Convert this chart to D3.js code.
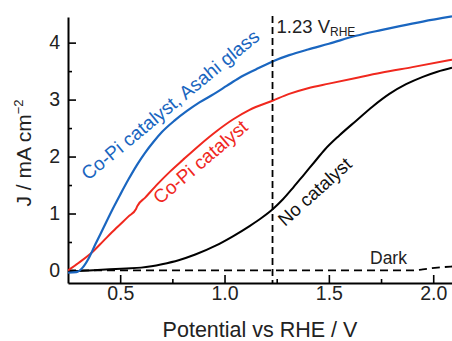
<!DOCTYPE html>
<html>
<head>
<meta charset="utf-8">
<script src="https://cdn.jsdelivr.net/npm/d3@7"></script>
<style>
  html, body { margin: 0; padding: 0; background: #fff; }
  svg { display: block; font-family: "Liberation Sans", Arial, sans-serif; }
</style>
</head>
<body>
<div id="chart"></div>
<script>
// Potential vs RHE (V) and current density J (mA cm^-2)
const asahiPotential = [0.25, 0.29, 0.32, 0.35, 0.38, 0.42, 0.46, 0.50, 0.54, 0.58, 0.62, 0.66, 0.70, 0.76, 0.82, 0.88, 0.95, 1.01, 1.07, 1.15, 1.23, 1.31, 1.40, 1.50, 1.63, 1.75, 1.84, 1.95, 2.09];
const asahiJ =         [-0.04, -0.03, 0.05, 0.22, 0.45, 0.75, 1.05, 1.33, 1.60, 1.85, 2.07, 2.26, 2.43, 2.63, 2.80, 2.95, 3.10, 3.24, 3.38, 3.53, 3.67, 3.78, 3.88, 3.98, 4.12, 4.22, 4.29, 4.37, 4.46];

const copiPotential = [0.25, 0.30, 0.363, 0.42, 0.48, 0.54, 0.576, 0.582, 0.62, 0.68, 0.74, 0.80, 0.88, 0.96, 1.04, 1.12, 1.23, 1.31, 1.40, 1.50, 1.63, 1.75, 1.90, 2.09];
const copiJ =         [0.00, 0.13, 0.31, 0.52, 0.74, 0.95, 1.08, 1.13, 1.28, 1.52, 1.74, 1.94, 2.20, 2.44, 2.65, 2.82, 2.98, 3.10, 3.20, 3.28, 3.38, 3.47, 3.57, 3.70];

const noCatPotential = [0.25, 0.35, 0.45, 0.53, 0.60, 0.65, 0.70, 0.78, 0.86, 0.96, 1.04, 1.12, 1.18, 1.232, 1.28, 1.33, 1.38, 1.43, 1.48, 1.55, 1.631, 1.71, 1.79, 1.87, 1.95, 2.02, 2.09];
const noCatJ =         [-0.02, 0.00, 0.02, 0.035, 0.05, 0.075, 0.11, 0.18, 0.28, 0.44, 0.60, 0.78, 0.93, 1.08, 1.25, 1.46, 1.68, 1.90, 2.12, 2.37, 2.63, 2.88, 3.10, 3.27, 3.40, 3.49, 3.56];

const darkPotential = [0.25, 0.60, 1.00, 1.50, 1.90, 1.95, 2.02, 2.09];
const darkJ =         [0.00, 0.00, 0.00, 0.00, 0.00, 0.02, 0.05, 0.07];

const xTicks = [0.5, 1.0, 1.5, 2.0];
const xMinorTicks = [0.75, 1.25, 1.75];
const yTicks = [0, 1, 2, 3, 4];
const yMinorTicks = [0.5, 1.5, 2.5, 3.5];
const markerPotential = 1.23;

const width = 452, height = 341;
const margin = { top: 17, right: 0, bottom: 58, left: 68 };

const svg = d3.select('#chart').append('svg')
  .attr('width', width)
  .attr('height', height);

const x = d3.scaleLinear().domain([0.25, 2.09]).range([margin.left, width - margin.right]);
const y = d3.scaleLinear().domain([-0.22, 4.45]).range([height - margin.bottom, margin.top]);

// Minor ticks (short, inward)
svg.append('g')
  .attr('transform', `translate(0,${height - margin.bottom})`)
  .call(d3.axisBottom(x).tickValues(xMinorTicks).tickSizeInner(-4).tickSizeOuter(0).tickFormat(''))
  .call(g => g.select('.domain').remove())
  .selectAll('line').attr('stroke', '#000').attr('stroke-width', 1.6);

svg.append('g')
  .attr('transform', `translate(${margin.left},0)`)
  .call(d3.axisLeft(y).tickValues(yMinorTicks).tickSizeInner(-4).tickSizeOuter(0).tickFormat(''))
  .call(g => g.select('.domain').remove())
  .selectAll('line').attr('stroke', '#000').attr('stroke-width', 1.6);

// Major axes
const xAxis = svg.append('g')
  .attr('transform', `translate(0,${height - margin.bottom})`)
  .call(d3.axisBottom(x).tickValues(xTicks).tickSizeInner(-8).tickSizeOuter(0).tickPadding(3).tickFormat(d3.format('.1f')));

const yAxis = svg.append('g')
  .attr('transform', `translate(${margin.left},0)`)
  .call(d3.axisLeft(y).tickValues(yTicks).tickSizeInner(-8).tickSizeOuter(0).tickPadding(8).tickFormat(d3.format('d')));

[xAxis, yAxis].forEach(a => {
  a.select('.domain').attr('stroke', '#000').attr('stroke-width', 2);
  a.selectAll('.tick line').attr('stroke', '#000').attr('stroke-width', 1.6);
  a.selectAll('.tick text')
    .attr('fill', '#222')
    .style('font-size', '19.5px')
    .style('font-family', '"Liberation Sans", Arial, sans-serif');
});

// Curves
const line = (xs, ys) => d3.line()
  .x((d, i) => x(xs[i]))
  .y((d, i) => y(ys[i]))
  .curve(d3.curveMonotoneX)(xs);

svg.append('clipPath').attr('id', 'plot-clip')
  .append('rect')
  .attr('x', margin.left).attr('y', 0)
  .attr('width', width - margin.left).attr('height', height - margin.bottom);

const plot = svg.append('g').attr('clip-path', 'url(#plot-clip)');

plot.append('path')
  .attr('d', line(darkPotential, darkJ))
  .attr('fill', 'none').attr('stroke', '#000').attr('stroke-width', 1.8)
  .attr('stroke-dasharray', '8,5');

plot.append('path')
  .attr('d', line(noCatPotential, noCatJ))
  .attr('fill', 'none').attr('stroke', '#000').attr('stroke-width', 2);

plot.append('path')
  .attr('d', line(copiPotential, copiJ))
  .attr('fill', 'none').attr('stroke', '#f0281e').attr('stroke-width', 2);

plot.append('path')
  .attr('d', line(asahiPotential, asahiJ))
  .attr('fill', 'none').attr('stroke', '#1a66c0').attr('stroke-width', 2.2);

// 1.23 V marker line
svg.append('line')
  .attr('x1', x(markerPotential)).attr('x2', x(markerPotential))
  .attr('y1', 16).attr('y2', height - margin.bottom)
  .attr('stroke', '#000').attr('stroke-width', 1.8)
  .attr('stroke-dasharray', '7,4');

const marker = svg.append('text')
  .attr('x', x(markerPotential) + 4).attr('y', 33)
  .attr('fill', '#222').style('font-size', '18.5px');
marker.append('tspan').text('1.23 V');
marker.append('tspan').attr('dy', 3).style('font-size', '12px').text('RHE');

// Curve labels
const labels = [
  { text: 'Co-Pi catalyst, Asahi glass', x: 88, y: 181, angle: -39.5, size: 19, color: '#1a66c0' },
  { text: 'Co-Pi catalyst', x: 160, y: 205, angle: -40.5, size: 19, color: '#f0281e' },
  { text: 'No catalyst', x: 285, y: 227, angle: -42, size: 18.5, color: '#111' }
];
labels.forEach(l => {
  svg.append('text')
    .attr('transform', `translate(${l.x},${l.y}) rotate(${l.angle})`)
    .attr('fill', l.color)
    .style('font-size', `${l.size}px`)
    .text(l.text);
});

svg.append('text')
  .attr('x', 370).attr('y', 264)
  .attr('fill', '#222').style('font-size', '17.5px')
  .text('Dark');

// Axis titles
svg.append('text')
  .attr('x', 260).attr('y', 337)
  .attr('text-anchor', 'middle')
  .attr('fill', '#222').style('font-size', '21.5px')
  .text('Potential vs RHE / V');

const yTitle = svg.append('text')
  .attr('transform', 'translate(31,153) rotate(-90)')
  .attr('text-anchor', 'middle')
  .attr('fill', '#222').style('font-size', '21px');
yTitle.append('tspan').text('J / mA cm');
yTitle.append('tspan').attr('dy', -8).style('font-size', '13px').text('−2');
</script>
</body>
</html>
